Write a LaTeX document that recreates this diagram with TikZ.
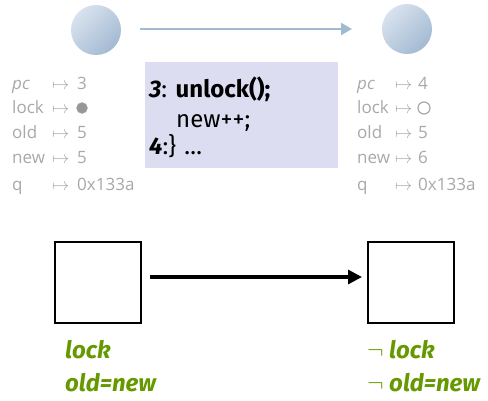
\documentclass[tikz,border=0pt]{standalone}
\usepackage{fontspec}
\setmainfont{Open Sans}
\newfontfamily\codefont{Fira Sans}
\newfontfamily\grfont{Fira Sans}
\usetikzlibrary{arrows.meta}
\definecolor{vargray}{RGB}{168,168,168}
\definecolor{codebg}{RGB}{221,221,242}
\definecolor{stategreen}{RGB}{102,153,0}
\definecolor{circA}{RGB}{216,226,238}
\definecolor{circB}{RGB}{163,186,210}
\definecolor{topArrow}{RGB}{160,186,210}
\tikzset{
  statecirc/.style={circle, minimum size=50pt, inner sep=0pt, shading=axis, top color=circA, bottom color=circB, shading angle=45},
  vartext/.style={anchor=base west, text=vargray, font=\fontsize{17}{20}\selectfont, inner sep=0pt},
  stbox/.style={draw=black, line width=1.2pt, minimum width=86pt, minimum height=81pt, inner sep=0pt},
  cond/.style={anchor=base west, text=stategreen, font=\grfont\bfseries\itshape\fontsize{24}{28}\selectfont, inner sep=0pt},
  codeline/.style={anchor=base west, font=\codefont\fontsize{24}{28}\selectfont, inner sep=0pt},
}
\begin{document}
\begin{tikzpicture}[x=1pt,y=-1pt]
\useasboundingbox (0,0) rectangle (488,400);
% top states
\node[statecirc] (s1) at (96,30) {};
\node[statecirc] (s2) at (407,29) {};
\coordinate (ta) at (140,29);
\coordinate (tb) at (352,29);
\draw[topArrow, line width=2.2pt, -{Triangle[length=11pt,width=12pt]}] (ta) -- (tb);
% left variables
\foreach \n/\y/\nm/\v in {a/89/{\itshape pc}/3, c/138/old/5, d/163/new/5, e/190/q/0x133a}{
  \node[vartext] (ln\n) at (12,\y) {\nm};
  \node[vartext] (lm\n) at (52,\y) {$\mapsto$};
  \node[vartext] (lv\n) at (77,\y) {\v};
}
\node[vartext] (lnb) at (12,113) {lock};
\node[vartext] (lmb) at (52,113) {$\mapsto$};
\node[circle, fill=vargray!90!black, draw=vargray, inner sep=0pt, minimum size=11pt] (lockf) at (82,108) {};
% right variables
\foreach \n/\y/\nm/\v in {a/89/{\itshape pc}/4, c/138/old/5, d/163/new/6, e/190/q/0x133a}{
  \node[vartext] (rn\n) at (357,\y) {\nm};
  \node[vartext] (rm\n) at (395,\y) {$\mapsto$};
  \node[vartext] (rv\n) at (418,\y) {\v};
}
\node[vartext] (rnb) at (357,113) {lock};
\node[vartext] (rmb) at (395,113) {$\mapsto$};
\node[circle, draw=vargray, line width=1.2pt, inner sep=0pt, minimum size=12pt] (locko) at (424,108) {};
% code box
\node[fill=codebg, minimum width=193pt, minimum height=106pt, inner sep=0pt] (code) at (241.5,115) {};
\node[codeline] (c1) at (149,97) {\bfseries\itshape 3\normalfont\codefont: \bfseries unlock();};
\node[codeline] (c2) at (176,127) {new++;};
\node[codeline] (c3) at (149,154) {\bfseries\itshape 4\normalfont\codefont:\} \dots};
% bottom states
\node[stbox] (b1) at (98,282.5) {};
\node[stbox] (b2) at (411,282.5) {};
\coordinate (ba) at (150,277);
\coordinate (bb) at (362,277);
\draw[line width=3.2pt, -{Triangle[length=14pt,width=14pt]}] (ba) -- (bb);
% conditions
\node[cond] (g1) at (65,358) {lock};
\node[cond] (g2) at (65,391) {old=new};
\node[cond] (g3) at (367,358) {$\neg$ lock};
\node[cond] (g4) at (367,391) {$\neg$ old=new};
\end{tikzpicture}
\end{document}
